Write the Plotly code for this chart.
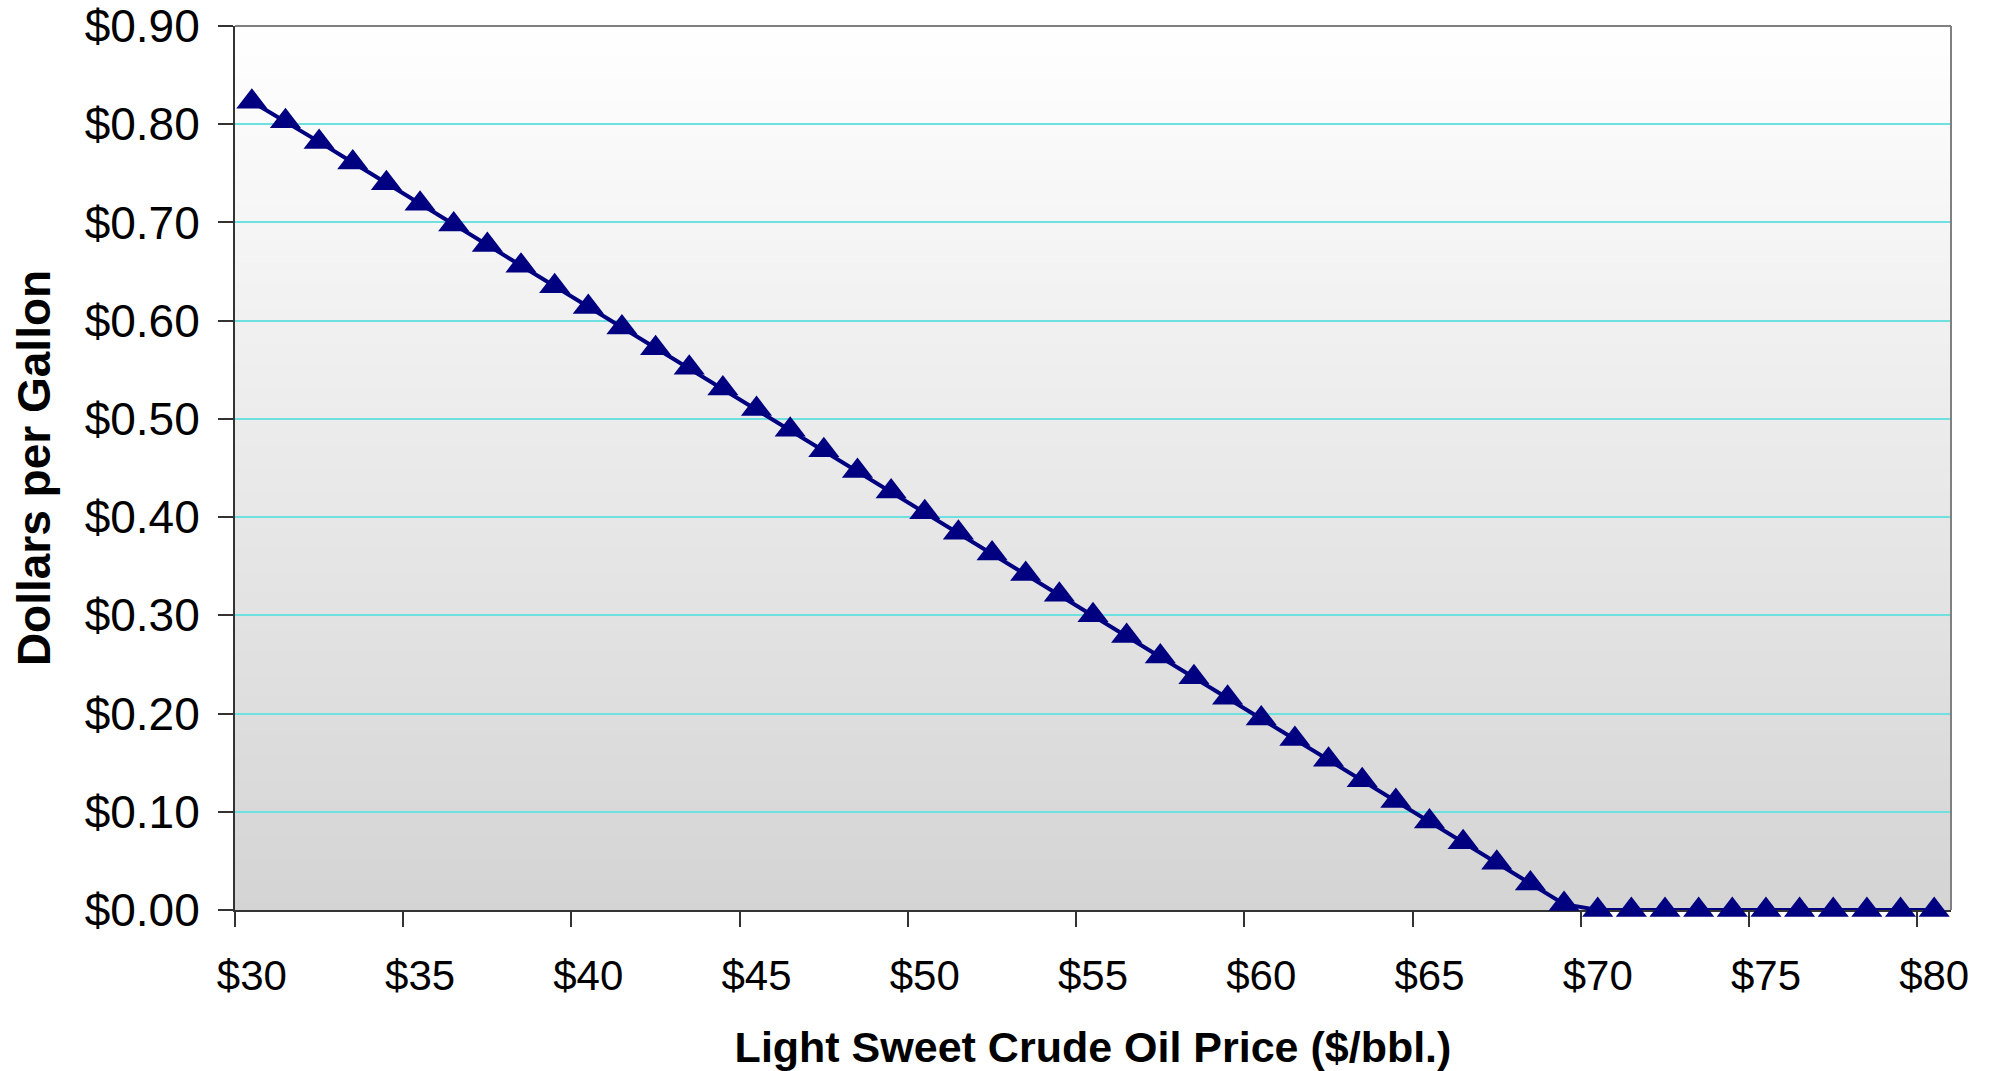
import plotly.graph_objects as go

# Data
oil_price = [30, 31, 32, 33, 34, 35, 36, 37, 38, 39,
             40, 41, 42, 43, 44, 45, 46, 47, 48, 49,
             50, 51, 52, 53, 54, 55, 56, 57, 58, 59,
             60, 61, 62, 63, 64, 65, 66, 67, 68, 69,
             70, 71, 72, 73, 74, 75, 76, 77, 78, 79, 80]
dollars_per_gallon = [0.823, 0.803, 0.782, 0.761, 0.740, 0.719, 0.698, 0.677, 0.656, 0.635,
                      0.614, 0.593, 0.572, 0.552, 0.531, 0.510, 0.489, 0.468, 0.447, 0.426,
                      0.405, 0.384, 0.363, 0.342, 0.321, 0.300, 0.279, 0.258, 0.237, 0.216,
                      0.195, 0.174, 0.153, 0.132, 0.111, 0.090, 0.069, 0.048, 0.027, 0.006,
                      0.000, 0.000, 0.000, 0.000, 0.000, 0.000, 0.000, 0.000, 0.000, 0.000, 0.000]
x_tick_values = [30, 35, 40, 45, 50, 55, 60, 65, 70, 75, 80]
x_tick_labels = ["$30", "$35", "$40", "$45", "$50", "$55", "$60", "$65", "$70", "$75", "$80"]
y_tick_values = [0.0, 0.1, 0.2, 0.3, 0.4, 0.5, 0.6, 0.7, 0.8, 0.9]
y_tick_labels = ["$0.00", "$0.10", "$0.20", "$0.30", "$0.40", "$0.50", "$0.60", "$0.70", "$0.80", "$0.90"]

FONT = "Arial, Liberation Sans, sans-serif"
NAVY = "#000080"

fig = go.Figure()
fig.add_trace(go.Scatter(
    x=oil_price, y=dollars_per_gallon, mode="lines+markers",
    line=dict(color=NAVY, width=4),
    marker=dict(symbol="triangle-up", size=27, color=NAVY, line=dict(width=0)),
    showlegend=False, cliponaxis=False,
))

# vertical gradient background of plot area (white -> light gray)
n = 120
shapes = []
for i in range(n):
    t = (i + 0.5) / n
    v = int(round(212 + (255 - 212) * t))
    shapes.append(dict(type="rect", xref="paper", yref="paper",
                       x0=0, x1=1, y0=i / n, y1=min(1, (i + 1) / n + 0.001),
                       fillcolor=f"rgb({v},{v},{v})", line=dict(width=0),
                       layer="below"))
# gray border top and right
shapes.append(dict(type="line", xref="paper", yref="paper", x0=0, x1=1, y0=1, y1=1,
                   line=dict(color="#808080", width=2), layer="above"))
shapes.append(dict(type="line", xref="paper", yref="paper", x0=1, x1=1, y0=0, y1=1,
                   line=dict(color="#808080", width=2), layer="above"))

fig.update_layout(
    width=1992, height=1071,
    margin=dict(l=235, r=41, t=26, b=161),
    paper_bgcolor="white", plot_bgcolor="white",
    font=dict(family=FONT, color="black"),
    shapes=shapes,
    xaxis=dict(
        range=[29.5, 80.5], tickvals=x_tick_values, ticktext=x_tick_labels,
        ticks="", showgrid=False, zeroline=False, automargin=False,
        showline=True, linecolor="#333333", linewidth=2,
        tickfont=dict(size=42, family=FONT), ticklabelstandoff=28,
        minor=dict(tickvals=[v - 0.5 for v in x_tick_values], ticks="outside",
                   ticklen=15, tickwidth=2, tickcolor="#333333", showgrid=False),
        title=dict(text="<b>Light Sweet Crude Oil Price ($/bbl.)</b>",
                   font=dict(size=43, family=FONT), standoff=36),
        layer="below traces",
    ),
    yaxis=dict(
        range=[0, 0.9], tickvals=y_tick_values, ticktext=y_tick_labels,
        ticks="outside", ticklen=15, tickwidth=2, tickcolor="#333333",
        showgrid=True, gridcolor="#6EE0E0", gridwidth=2, zeroline=False,
        showline=True, linecolor="#333333", linewidth=2, automargin=False,
        tickfont=dict(size=46, family=FONT), ticklabelstandoff=9,
        title=dict(text="<b>Dollars per Gallon</b>",
                   font=dict(size=46, family=FONT), standoff=20),
        layer="below traces",
    ),
)

fig.write_html("out.html")
